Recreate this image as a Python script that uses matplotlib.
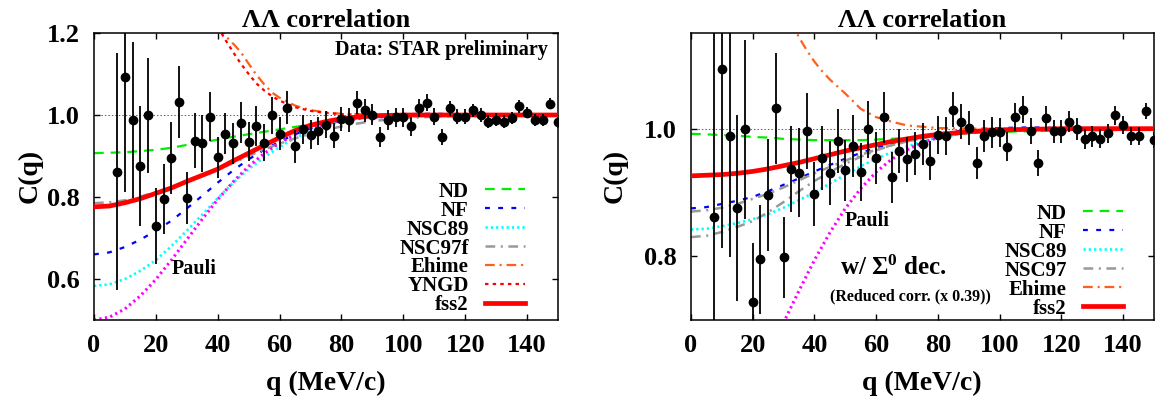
import matplotlib
matplotlib.use("Agg")
import matplotlib.pyplot as plt

plt.rcParams['font.family'] = ['Liberation Serif', 'DejaVu Serif']
plt.rcParams['font.weight'] = 'bold'
plt.rcParams['mathtext.fontset'] = 'custom'
plt.rcParams['mathtext.rm'] = 'Liberation Serif:bold'
plt.rcParams['mathtext.it'] = 'Liberation Serif:bold'
plt.rcParams['mathtext.bf'] = 'Liberation Serif:bold'
plt.rcParams['lines.scale_dashes'] = False

# ---------------- data (STAR preliminary) ----------------
q_data = [7.5, 10, 12.5, 15, 17.5, 20, 22.5, 25, 27.5, 30, 32.5, 35, 37.5, 40,
          42.5, 45, 47.5, 50, 52.5, 55, 57.5, 60, 62.5, 65, 67.5, 70, 72.5, 75,
          77.5, 80, 82.5, 85, 87.5, 90, 92.5, 95, 97.5, 100, 102.5, 105, 107.5,
          110, 112.5, 115, 117.5, 120, 122.5, 125, 127.5, 130, 132.5, 135,
          137.5, 140, 142.5, 145, 147.5, 150]
c_data = [0.862, 1.093, 0.988, 0.876, 0.999, 0.729, 0.795, 0.896, 1.032, 0.798,
          0.937, 0.931, 0.996, 0.897, 0.954, 0.931, 0.981, 0.935, 0.973, 0.932,
          0.999, 0.954, 1.018, 0.924, 0.965, 0.952, 0.961, 0.976, 0.950, 0.990,
          0.988, 1.030, 1.011, 1.001, 0.946, 0.988, 0.994, 0.994, 0.972, 1.018,
          1.030, 0.996, 0.946, 1.016, 0.996, 0.996, 1.011, 1.000, 0.984, 0.988,
          0.984, 0.993, 1.021, 1.006, 0.988, 0.988, 1.028, 0.982]
c_err = [0.29, 0.28, 0.19, 0.146, 0.14, 0.092, 0.085, 0.088, 0.087, 0.064,
         0.067, 0.07, 0.06, 0.05, 0.05, 0.05, 0.05, 0.048, 0.048, 0.045, 0.045,
         0.04, 0.04, 0.04, 0.035, 0.035, 0.033, 0.033, 0.03, 0.03, 0.03, 0.028,
         0.027, 0.026, 0.025, 0.025, 0.024, 0.023, 0.022, 0.022, 0.021, 0.02,
         0.02, 0.019, 0.018, 0.018, 0.017, 0.017, 0.016, 0.016, 0.015, 0.015,
         0.015, 0.014, 0.014, 0.014, 0.013, 0.013]

# ---------------- theory curves ----------------
q_th = [0, 5, 10, 15, 20, 25, 30, 35, 40, 45, 50, 55, 60, 65, 70, 75, 80, 85,
        90, 95, 100, 110, 120, 130, 140, 150]

pauli = [0.500, 0.507, 0.527, 0.559, 0.599, 0.646, 0.696, 0.746, 0.794, 0.837,
         0.875, 0.906, 0.932, 0.952, 0.967, 0.978, 0.986, 0.991, 0.994, 0.996,
         0.998, 0.999, 1.0, 1.0, 1.0, 1.0]

# left panel
nd_L = [0.907, 0.908, 0.909, 0.912, 0.915, 0.920, 0.927, 0.933, 0.940, 0.947,
        0.953, 0.959, 0.965, 0.971, 0.977, 0.982, 0.987, 0.991, 0.994, 0.996,
        0.998, 0.999, 1.0, 1.0, 1.0, 1.0]
nf_L = [0.660, 0.665, 0.678, 0.696, 0.718, 0.742, 0.772, 0.803, 0.835, 0.865,
        0.892, 0.915, 0.935, 0.953, 0.967, 0.978, 0.987, 0.993, 0.997, 1.000,
        1.002, 1.003, 1.002, 1.001, 1.0, 1.0]
nsc89_L = [0.583, 0.587, 0.600, 0.620, 0.646, 0.680, 0.718, 0.757, 0.797, 0.835,
           0.868, 0.897, 0.922, 0.944, 0.961, 0.974, 0.984, 0.991, 0.996, 0.998,
           0.999, 1.0, 1.0, 1.0, 1.0, 1.0]
nsc97f_L = [0.785, 0.787, 0.792, 0.801, 0.812, 0.824, 0.838, 0.852, 0.866, 0.883,
            0.900, 0.916, 0.930, 0.943, 0.955, 0.964, 0.972, 0.979, 0.985, 0.989,
            0.992, 0.996, 0.998, 0.999, 1.0, 1.0]
fss2_L = [0.776, 0.778, 0.786, 0.796, 0.809, 0.822, 0.838, 0.853, 0.868, 0.888,
          0.907, 0.926, 0.945, 0.962, 0.975, 0.984, 0.991, 0.995, 0.998, 0.999,
          1.0, 1.0, 1.0, 1.0, 1.0, 1.0]
q_ehime_L = [40, 42.5, 45, 47.5, 50, 52.5, 55, 57.5, 60, 65, 70, 75, 80, 90, 100, 150]
ehime_L = [1.215, 1.193, 1.174, 1.153, 1.125, 1.098, 1.075, 1.055, 1.042, 1.023,
           1.012, 1.006, 1.003, 1.001, 1.0, 1.0]
yngd_L = [1.215, 1.183, 1.153, 1.125, 1.100, 1.077, 1.060, 1.046, 1.035, 1.019,
          1.010, 1.005, 1.002, 1.0, 1.0, 1.0]

# right panel (with Sigma0 decay, reduced correlation)
nd_R = [0.992, 0.991, 0.990, 0.989, 0.987, 0.986, 0.984, 0.983, 0.982, 0.982,
        0.982, 0.982, 0.983, 0.984, 0.986, 0.988, 0.990, 0.992, 0.993, 0.994,
        0.995, 0.996, 0.997, 0.997, 0.998, 0.998]
nf_R = [0.875, 0.877, 0.882, 0.887, 0.893, 0.902, 0.912, 0.922, 0.933, 0.943,
        0.953, 0.962, 0.970, 0.977, 0.983, 0.988, 0.992, 0.995, 0.998, 1.000,
        1.001, 1.002, 1.001, 1.001, 1.0, 1.0]
nsc89_R = [0.842, 0.843, 0.847, 0.852, 0.858, 0.866, 0.876, 0.888, 0.900, 0.914,
           0.928, 0.941, 0.953, 0.963, 0.972, 0.980, 0.986, 0.990, 0.994, 0.996,
           0.998, 1.0, 1.0, 1.0, 1.0, 1.0]
nsc97a_R = [0.870, 0.872, 0.876, 0.882, 0.890, 0.898, 0.908, 0.919, 0.930, 0.940,
            0.950, 0.959, 0.967, 0.974, 0.980, 0.985, 0.989, 0.992, 0.995, 0.997,
            0.998, 0.999, 1.0, 1.0, 1.0, 1.0]
nsc97b_R = [0.830, 0.832, 0.838, 0.846, 0.855, 0.869, 0.885, 0.902, 0.918, 0.932,
            0.945, 0.956, 0.966, 0.974, 0.980, 0.985, 0.990, 0.993, 0.996, 0.997,
            0.998, 0.999, 1.0, 1.0, 1.0, 1.0]
fss2_R = [0.926, 0.927, 0.928, 0.930, 0.933, 0.937, 0.942, 0.947, 0.953, 0.959,
          0.965, 0.970, 0.975, 0.980, 0.984, 0.988, 0.991, 0.993, 0.995, 0.997,
          0.998, 0.999, 1.0, 1.0, 1.0, 1.0]
q_ehime_R = [30, 32.5, 35, 37.5, 40, 42.5, 45, 47.5, 50, 55, 60, 65, 70, 75, 80, 90, 100, 150]
ehime_R = [1.20, 1.168, 1.143, 1.123, 1.105, 1.090, 1.077, 1.066, 1.055, 1.031,
           1.018, 1.011, 1.005, 1.003, 1.001, 1.0, 1.0, 1.0]

xticks = [0, 20, 40, 60, 80, 100, 120, 140]
yticks_L = [0.6, 0.8, 1.0, 1.2]
yticks_R = [0.8, 1.0]

# ---------------- styles ----------------
ST = {
    'ND':    dict(color='#00ee00', lw=1.6, ls=(0, (7, 5))),
    'NF':    dict(color='#0000ff', lw=1.6, ls=(0, (3.5, 6))),
    'NSC89': dict(color='#00ffff', lw=1.9, ls=(0, (1.6, 2.2))),
    'NSC97': dict(color='#999999', lw=1.8, ls=(0, (7, 4, 1.5, 4))),
    'Ehime': dict(color='#ff5f1a', lw=1.6, ls=(0, (7, 3.5, 1.5, 3.5))),
    'YNGD':  dict(color='#ff0000', lw=1.6, ls=(0, (2.5, 3))),
    'fss2':  dict(color='#ff0000', lw=3.4, ls='-'),
    'Pauli': dict(color='#ff00ff', lw=2.2, ls=(0, (1.6, 2.4))),
}

fig = plt.figure(figsize=(11.61, 4.01), dpi=100)
axL = fig.add_axes([94 / 1161, 1 - 320 / 401, 464 / 1161, 287 / 401])
axR = fig.add_axes([691 / 1161, 1 - 320 / 401, 463 / 1161, 287 / 401])


def style_axes(ax, ylim, yticks):
    ax.set_xlim(0, 150)
    ax.set_ylim(*ylim)
    ax.set_xticks(xticks)
    ax.set_yticks(yticks)
    ax.set_yticklabels(['%.1f' % v for v in yticks])
    ax.tick_params(direction='in', length=4, width=1.0, top=True, right=True,
                   labelsize=19, pad=10)
    for s in ax.spines.values():
        s.set_linewidth(1.1)
    ax.axhline(1.0, color='#555555', lw=0.7, ls=(0, (1, 1.5)), zorder=1)
    ax.set_title('ΛΛ correlation', fontsize=19, fontweight='bold', pad=4)


def plot_data(ax):
    ax.errorbar(q_data, c_data, yerr=c_err, fmt='o', color='black', ms=6,
                elinewidth=1.3, capsize=0, zorder=10, clip_on=True)


leg_kw = dict(loc='upper right', markerfirst=False, frameon=False, fontsize=15,
              handlelength=1.9, handletextpad=0.8, labelspacing=-0.05,
              borderpad=0, borderaxespad=0)

# ---- left panel ----
style_axes(axL, (0.5, 1.2), yticks_L)
axL.plot(q_th, nd_L, label='ND', **ST['ND'])
axL.plot(q_th, nf_L, label='NF', **ST['NF'])
axL.plot(q_th, nsc89_L, label='NSC89', **ST['NSC89'])
axL.plot(q_th, nsc97f_L, label='NSC97f', **ST['NSC97'])
axL.plot(q_ehime_L, ehime_L, label='Ehime', **ST['Ehime'])
axL.plot(q_ehime_L, yngd_L, label='YNGD', **ST['YNGD'])
axL.plot(q_th, pauli, **ST['Pauli'])
axL.plot(q_th, fss2_L, label='fss2', zorder=5, **ST['fss2'])
plot_data(axL)
axL.text(0.978, 0.941, 'Data: STAR preliminary', transform=axL.transAxes,
         ha='right', va='center', fontsize=14.5, fontweight='bold')
axL.text(25.2, 0.624, 'Pauli', ha='left', va='center', fontsize=14.5,
         fontweight='bold')
axL.legend(bbox_to_anchor=(0.929, 0.482), **leg_kw)

# ---- right panel ----
style_axes(axR, (0.7, 1.15), yticks_R)
axR.plot(q_th, nd_R, label='ND', **ST['ND'])
axR.plot(q_th, nf_R, label='NF', **ST['NF'])
axR.plot(q_th, nsc89_R, label='NSC89', **ST['NSC89'])
axR.plot(q_th, nsc97a_R, label='NSC97', **ST['NSC97'])
axR.plot(q_th, nsc97b_R, **ST['NSC97'])
axR.plot(q_ehime_R, ehime_R, label='Ehime', **ST['Ehime'])
axR.plot(q_th, pauli, **ST['Pauli'])
axR.plot(q_th, fss2_R, label='fss2', zorder=5, **ST['fss2'])
plot_data(axR)
axR.text(49.8, 0.855, 'Pauli', ha='left', va='center', fontsize=14.5,
         fontweight='bold')
axR.text(48.2, 0.781, 'w/ Σ$^{0}$ dec.', ha='left', va='center', fontsize=18,
         fontweight='bold')
axR.text(45.0, 0.737, '(Reduced corr. (x 0.39))', ha='left', va='center',
         fontsize=11.5, fontweight='bold')
axR.legend(bbox_to_anchor=(0.933, 0.405), **leg_kw)

fig.text(30 / 1161, 1 - 176 / 401, 'C(q)', rotation=90, ha='center',
         va='center', fontsize=20, fontweight='bold')
fig.text(615 / 1161, 1 - 176 / 401, 'C(q)', rotation=90, ha='center',
         va='center', fontsize=20, fontweight='bold')
fig.text(326 / 1161, 1 - 383 / 401, 'q (MeV/c)', ha='center', va='center',
         fontsize=20, fontweight='bold')
fig.text(922 / 1161, 1 - 383 / 401, 'q (MeV/c)', ha='center', va='center',
         fontsize=20, fontweight='bold')

fig.savefig('out.png', dpi=100)
